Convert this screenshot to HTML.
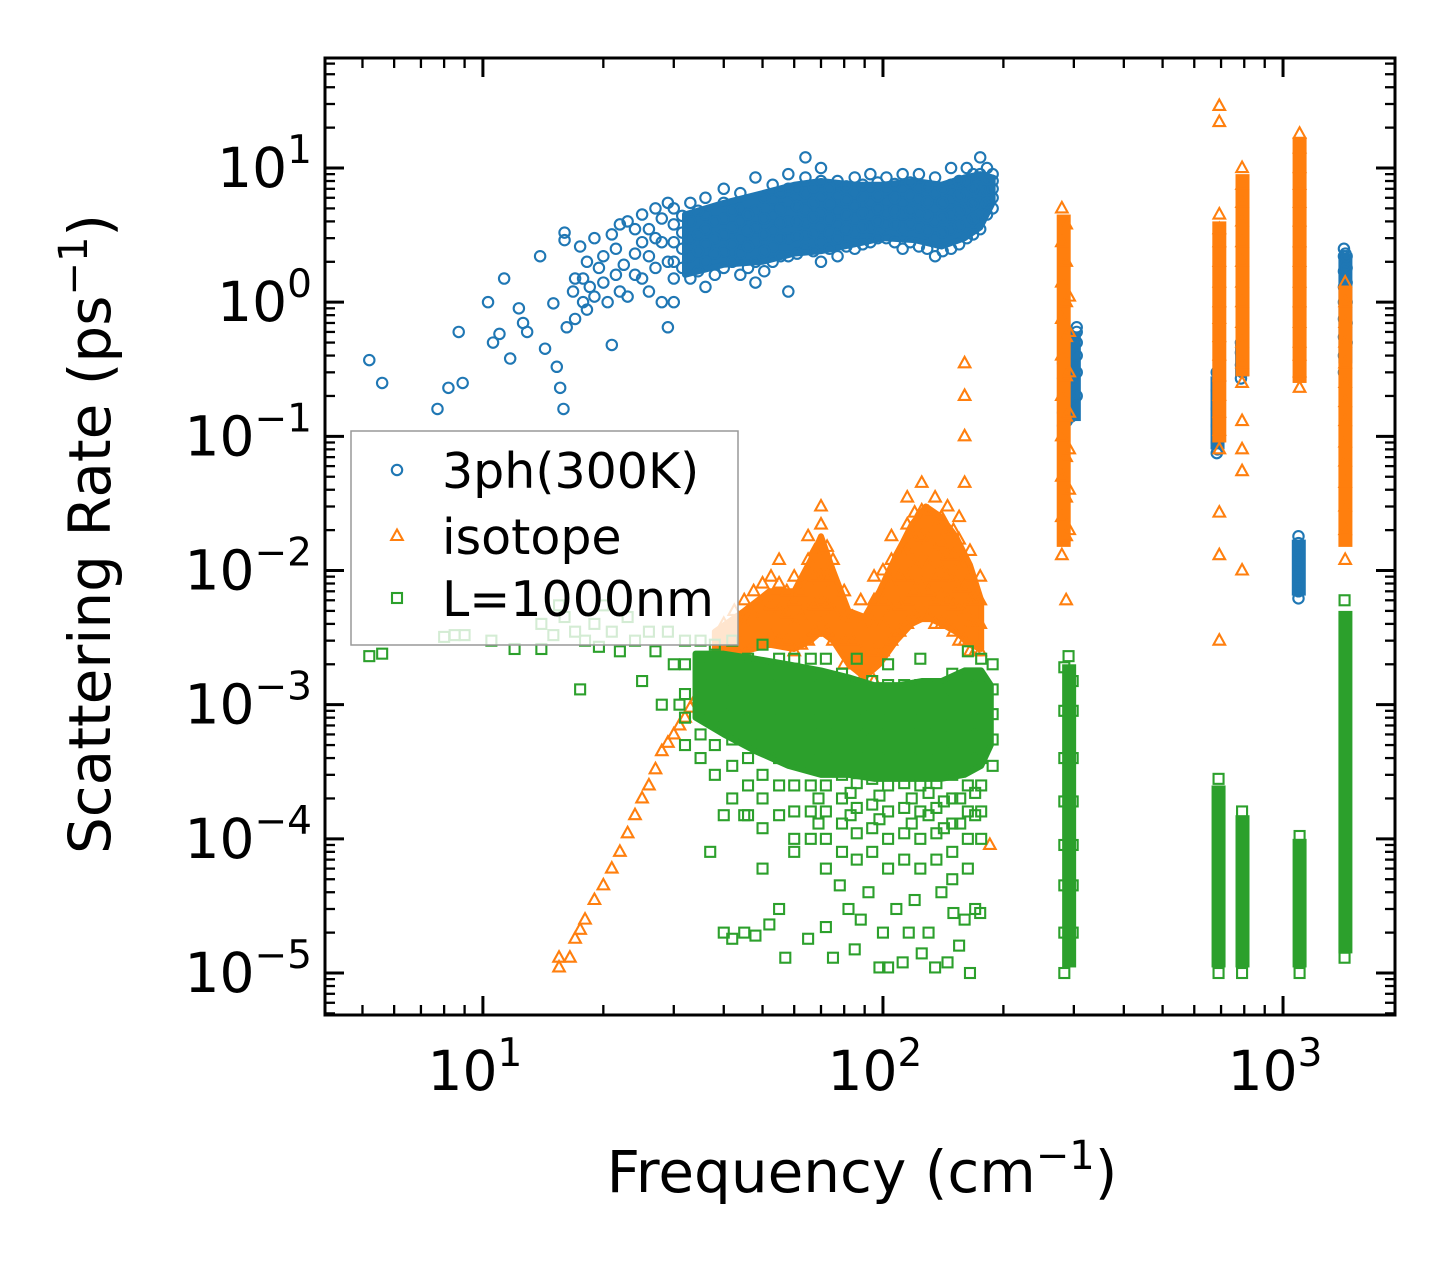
<!DOCTYPE html>
<html><head><meta charset="utf-8"><style>
body{margin:0;background:#fff;}
svg text{font-family:"DejaVu Sans","Liberation Sans",sans-serif;fill:#000;}
</style></head><body>
<svg id="chart" width="1455" height="1265" viewBox="0 0 1455 1265" xmlns="http://www.w3.org/2000/svg">
<rect width="1455" height="1265" fill="#fff"/>
<g id="marks"></g>
<g id="axes"></g>
<g id="legend"></g>
<text x="862" y="1192" font-size="58" text-anchor="middle">Frequency (cm<tspan font-size="40" dy="-23">−1</tspan><tspan dy="23">)</tspan></text>
<text transform="translate(110,534) rotate(-90)" font-size="58" text-anchor="middle">Scattering Rate (ps<tspan font-size="40" dy="-23">−1</tspan><tspan dy="23">)</tspan></text>
</svg>
<script>
// ---- dense-cloud envelopes: [frequency, low, high]
const blueBand = [[32,1.6,4.5],[40,1.9,5.5],[50,2,6.5],[60,2.3,7.5],[70,2.4,8],[85,2.7,7.5],[100,3,7.5],[120,2.9,8],[140,2.6,7.5],[160,3,8.5],[175,3.6,9],[188,5.5,8.5]];
const orangeBand = [[38,2e-3,3.5e-3],[45,2.5e-3,5e-3],[52,2.8e-3,7e-3],[60,2.6e-3,7e-3],[66,3e-3,1.2e-2],[70,3.5e-3,1.8e-2],[75,3e-3,1e-2],[82,2e-3,5e-3],[90,1.6e-3,4.5e-3],[98,2e-3,7e-3],[108,3e-3,1.3e-2],[118,4e-3,2.2e-2],[128,4.5e-3,3e-2],[140,4e-3,2.5e-2],[152,3.5e-3,1.8e-2],[165,2.8e-3,1.1e-2],[176,2.6e-3,6e-3]];
const greenBand = [[34,8e-4,2.4e-3],[40,6e-4,2.4e-3],[48,4.5e-4,2.2e-3],[58,3.5e-4,2e-3],[70,3e-4,1.8e-3],[82,3e-4,1.6e-3],[95,2.8e-4,1.4e-3],[110,2.8e-4,1.4e-3],[125,2.8e-4,1.5e-3],[140,2.8e-4,1.5e-3],[160,3e-4,1.8e-3],[176,3.5e-4,1.8e-3],[186,5e-4,1.4e-3]];
// ---- vertical mode stacks: [frequency, low, high]
const blueStacks = [[300,0.13,0.6],[686,0.08,0.28],[790,0.28,0.48],[1095,0.0065,0.017],[1432,0.35,2.3]];
const orangeStacks = [[283,0.015,4.5],[693,0.09,4],[792,0.28,9],[1100,0.25,17],[1432,0.015,1.3]];
const greenStacks = [[292,1.1e-5,2e-3],[690,1.1e-5,2.5e-4],[792,1.1e-5,1.5e-4],[1100,1.1e-5,1e-4],[1432,1.4e-5,5e-3]];
// ---- individual points: columns of [frequency, [rates...]]
const blueCols = [
[5.2,[0.37]],[5.6,[0.25]],[7.7,[0.16]],[8.2,[0.23]],[8.7,[0.6]],[8.9,[0.25]],[10.3,[1.0]],[10.6,[0.5]],[11,[0.58]],[11.3,[1.5]],[11.7,[0.38]],[12.3,[0.9]],[12.6,[0.7]],[12.9,[0.6]],[13.9,[2.2]],[14.3,[0.45]],[15,[0.98]],[15.3,[0.33]],[15.6,[0.23]],[15.9,[0.16]],[16,[3.3,2.9]],[16.2,[0.65]],[16.8,[1.2]],[17,[0.75,1.5]],[17.5,[2.6]],[17.8,[1.5,1.0]],[18.2,[0.88,2.0]],[18.5,[1.3]],[19,[3.0,1.1]],[19.5,[1.8]],[20,[2.2,1.4]],[20.5,[1.0]],[21,[0.48,3.2]],[21.5,[2.5,1.6]],[22,[1.2,3.8]],[22.5,[1.9]],[23,[4.0,1.1]],[24,[2.3,1.6,3.5]],[25,[1.5,2.8,4.5]],[26,[3.5,1.2,2.2]],[27,[5.0,1.8,3.0]],[28,[2.8,1.0,4.2]],[29,[0.65,2.0,5.5]],
[30,[1.0,1.5,2,2.8,3.8,5]],[33,[1.5,2.2,3,4,5.5]],[36,[1.3,2,2.7,3.5,4.5,6]],[40,[1.8,2.4,3.2,4.2,5.5,7]],[44,[1.6,2.3,3,4,5,6.5]],[48,[1.4,2,2.8,3.6,4.8,8.5]],[53,[2,2.6,3.4,4.4,5.8,7.5]],[58,[1.2,2.2,3,4,5.5,7,9]],[64,[2.5,3.2,4,5,6.5,8.5,12]],[70,[2,2.8,3.6,4.6,6,8,10]],[77,[2.2,3,3.8,4.8,6.2,8]],[85,[2.5,3.3,4.2,5.2,6.5,8.5]],[93,[2.8,3.6,4.5,5.5,7,9]],[102,[3,3.8,4.6,5.6,7,8.5]],[112,[2.5,3.5,4.5,5.5,7,9]],[123,[2.6,3.6,4.6,5.8,7.2,9]],[135,[2.2,3,4,5,6.5,8.5]],[148,[2.5,3.5,4.5,5.8,7.5,10]],[162,[3,4,5,6.5,8,10]],[175,[3.5,4.5,5.5,7,9,12]],[188,[5,6,7,8,9]],
[31.5,[1.8,2.5,3.3,4.4]],[34.5,[1.7,2.4,3.2,4.8]],[38,[1.6,2.3,3,4]],[42,[2,2.7,3.6,4.8]],[46,[1.8,2.6,3.4,4.5]],[50.5,[1.7,2.4,3.2,4.2,6]],[55.5,[2.2,3,3.9,5,6.6]],[61,[2.3,3.1,4,5.2,7]],[67,[2.4,3.3,4.3,5.5,7.2]],[73.5,[2.5,3.3,4.2,5.4,7]],[81,[2.6,3.5,4.5,5.8,7.3]],[89,[2.7,3.6,4.6,6,7.5]],[97,[3,4,5,6.2,7.8]],[107,[2.8,3.8,4.8,6,7.6]],[117,[2.8,3.8,4.8,6.2,7.8]],[129,[2.5,3.4,4.4,5.6,7.3]],[141,[2.4,3.3,4.3,5.5,7]],[155,[2.7,3.7,4.8,6.2,8]],[168,[3.2,4.2,5.4,7,9]],[182,[4.5,5.5,6.8,8.2,10]],
[282,[0.12,0.15,0.2,0.27,0.35]],[288,[0.13,0.17,0.23,0.3,0.4,0.5]],[295,[0.14,0.19,0.26,0.35,0.45,0.55]],[305,[0.2,0.3,0.4,0.5,0.6,0.65]],
[683,[0.075,0.09,0.12,0.16,0.22,0.3]],[686,[0.08,0.1,0.14,0.19,0.26]],
[785,[0.27,0.34,0.42,0.5]],[792,[0.3,0.38,0.46]],
[1093,[0.0062,0.007,0.008,0.009,0.01,0.011,0.012,0.013,0.014,0.016,0.018]],
[1420,[0.3,0.4,0.55,0.75,1,1.3,1.7,2.2,2.5]],[1432,[0.35,0.48,0.65,0.85,1.15,1.5,1.9,2.3]],[1442,[0.5,0.7,1,1.4,1.8,2.2]]
];
const orangeCols = [
[15.5,[1.1e-5,1.3e-5]],[16.5,[1.3e-5]],[17,[1.8e-5]],[17.5,[2.1e-5]],[18,[2.5e-5]],[19,[3.5e-5]],[20,[4.5e-5]],[21,[6e-5]],[22,[8e-5]],[23,[1.1e-4]],[24,[1.5e-4]],[25,[2e-4]],[26,[2.5e-4]],[27,[3.3e-4]],[28,[4.5e-4]],[29,[5.2e-4]],[30,[6e-4]],[31,[7e-4]],[32,[8e-4]],[33,[9.5e-4]],[34,[1.1e-3]],[35,[1.3e-3]],[36,[1.5e-3]],[37,[1.7e-3]],[38,[2e-3]],
[40,[2e-3,3e-3,4e-3]],[45,[2.5e-3,4e-3,6e-3]],[50,[3e-3,5e-3,8e-3]],[55,[3e-3,5e-3,8e-3,1.2e-2]],[60,[2.5e-3,4e-3,6e-3,9e-3]],[65,[3e-3,5e-3,8e-3,1.2e-2,1.8e-2]],[70,[4e-3,6e-3,9e-3,1.4e-2,2.2e-2,3e-2]],[75,[3e-3,5e-3,8e-3,1.2e-2]],[80,[2e-3,3e-3,4.5e-3,7e-3]],[88,[1.5e-3,2.5e-3,4e-3,6e-3]],[95,[1.5e-3,2.5e-3,4e-3,6e-3,9e-3]],[105,[3e-3,5e-3,8e-3,1.2e-2,1.8e-2]],[115,[4e-3,6e-3,9e-3,1.4e-2,2.2e-2,3.5e-2]],[125,[5e-3,8e-3,1.2e-2,1.8e-2,2.8e-2,4.5e-2]],[135,[4e-3,6e-3,9e-3,1.4e-2,2.2e-2,3.5e-2]],[145,[4e-3,6e-3,9e-3,1.3e-2,2e-2,3e-2]],[155,[3e-3,5e-3,7.5e-3,1.1e-2,1.7e-2,2.5e-2]],[165,[2.5e-3,4e-3,6e-3,9e-3,1.4e-2]],[175,[2.5e-3,4e-3,6e-3,9e-3]],
[42.5,[2.4e-3,3.5e-3,5e-3]],[47.5,[2.8e-3,4.5e-3,7e-3]],[52.5,[3.2e-3,5.5e-3,9e-3]],[57.5,[3e-3,4.8e-3,7e-3]],[62.5,[2.8e-3,4.5e-3,7e-3]],[67.5,[3.5e-3,5.5e-3,9e-3,1.4e-2]],[72.5,[3.5e-3,5.5e-3,9e-3,1.5e-2]],[84,[2e-3,3e-3,4.5e-3]],[100,[2.5e-3,4e-3,6e-3,1e-2]],[110,[3.5e-3,5.5e-3,9e-3,1.4e-2]],[120,[4.5e-3,7e-3,1.1e-2,1.7e-2,2.7e-2]],[130,[4.5e-3,7e-3,1.1e-2,1.7e-2,2.7e-2]],[140,[4e-3,6.5e-3,1e-2,1.6e-2,2.5e-2]],[150,[3.5e-3,5.5e-3,8.5e-3,1.3e-2,2e-2]],[160,[3e-3,5e-3,7.5e-3,1.1e-2,0.1,0.2,0.35,0.045]],[170,[2.5e-3,4e-3,6e-3]],[185,[9e-5]],
[280,[0.013,0.025,0.05,0.1,0.2,0.4,0.75,1.4,2.8,5]],[287,[0.006,0.018,0.035,0.07,0.14,0.28,0.55,1,2,3.8]],[292,[0.02,0.04,0.08,0.15,0.3,0.6,1.1]],
[693,[0.003,0.013,0.027,0.08,0.11,0.15,0.2,0.28,0.4,0.55,0.75,1,1.4,2,2.8,3.5,4.5,22,29]],
[790,[0.01,0.055,0.08,0.13,0.25,0.35,0.5,0.7,1,1.4,2,2.8,4,5.5,7.5,10]],
[1100,[0.23,0.3,0.4,0.5,0.7,1,1.4,2,2.8,4,5.5,7.5,10,14,18]],
[1430,[0.012,0.02,0.03,0.045,0.065,0.09,0.13,0.18,0.25,0.35,0.5,0.7,1,1.4]]
];
const greenCols = [
[5.2,[2.3e-3]],[5.6,[2.4e-3]],[8,[3.2e-3]],[8.5,[3.3e-3]],[9,[3.3e-3]],[10.5,[3e-3]],[12,[2.6e-3]],[14,[2.6e-3,4e-3]],[15,[3.3e-3]],[15.5,[5.5e-3]],[16,[4.5e-3]],[17,[3.5e-3]],[17.5,[1.3e-3]],[18,[3e-3]],[19,[4e-3]],[19.5,[2.7e-3]],[20,[5.5e-3]],[21,[3.5e-3]],[22,[2.5e-3]],[23,[4.5e-3]],[24,[3e-3]],[25,[1.5e-3]],[26,[3.5e-3]],[27,[2.5e-3]],[28,[1e-3]],[29,[3.5e-3]],[30,[2e-3]],[31,[1e-3]],
[32,[5e-4,8e-4,1.2e-3,2e-3,3e-3]],[35,[4e-4,6e-4,9e-4,1.4e-3,2.2e-3,3e-3]],[38,[3e-4,5e-4,8e-4,1.2e-3,1.8e-3,2.8e-3]],[42,[2e-4,3.5e-4,5.5e-4,8.5e-4,1.3e-3,2e-3,3e-3]],[46,[1.5e-4,2.5e-4,4e-4,6e-4,9e-4,1.4e-3,2.2e-3]],[50,[1.2e-4,2e-4,3e-4,5e-4,8e-4,1.2e-3,1.8e-3,2.8e-3]],[55,[1.5e-4,2.5e-4,4e-4,6e-4,9e-4,1.4e-3,2.2e-3]],[60,[1e-4,1.6e-4,2.5e-4,4e-4,6e-4,9e-4,1.4e-3,2.2e-3]],[66,[1e-4,1.6e-4,2.5e-4,4e-4,6e-4,9e-4,1.4e-3,2.2e-3]],[72,[6e-5,1e-4,1.6e-4,2.5e-4,4e-4,6e-4,9e-4,1.4e-3,2.2e-3]],[79,[8e-5,1.3e-4,2e-4,3e-4,4.5e-4,7e-4,1.1e-3,1.7e-3]],[86,[7e-5,1.1e-4,1.7e-4,2.6e-4,4e-4,6e-4,9e-4,1.4e-3,2.2e-3]],[94,[8e-5,1.2e-4,1.8e-4,2.8e-4,4.2e-4,6.5e-4,1e-3,1.5e-3]],[103,[6e-5,1e-4,1.6e-4,2.5e-4,4e-4,6e-4,9e-4,1.4e-3,2e-3]],[113,[7e-5,1.1e-4,1.7e-4,2.6e-4,4e-4,6e-4,9e-4,1.4e-3]],[124,[6e-5,1e-4,1.6e-4,2.5e-4,4e-4,6e-4,9e-4,1.4e-3,2.2e-3]],[136,[7e-5,1.1e-4,1.7e-4,2.6e-4,4e-4,6e-4,9e-4,1.4e-3]],[149,[5e-5,8e-5,1.3e-4,2e-4,3e-4,4.5e-4,7e-4,1.1e-3,1.7e-3]],[163,[6e-5,1e-4,1.6e-4,2.5e-4,4e-4,6e-4,9e-4,1.4e-3,2.5e-3]],[176,[1e-4,1.6e-4,2.5e-4,4e-4,6e-4,9e-4,1.4e-3,2.2e-3]],[188,[3.5e-4,5.5e-4,8.5e-4,1.3e-3,2e-3]],
[69,[1.3e-4,2e-4]],[83,[1.5e-4,2.2e-4]],[98,[1.4e-4,2.1e-4]],[118,[1.3e-4,2e-4]],[130,[1.5e-4,2.2e-4]],[142,[1.2e-4,1.9e-4]],[156,[1.3e-4,2e-4]],[170,[1.5e-4,2.2e-4]],
[40,[2e-5,1.5e-4]],[42,[1.8e-5]],[45,[2e-5,1.5e-4]],[48,[1.9e-5]],[52,[2.3e-5]],[50,[6e-5]],[55,[3e-5]],[57,[1.3e-5]],[60,[8e-5]],[65,[1.8e-5]],[72,[2.2e-5]],[75,[1.3e-5]],[78,[4.5e-5]],[82,[3e-5]],[85,[1.5e-5]],[88,[2.5e-5]],[92,[4e-5]],[98,[1.1e-5]],[100,[2e-5]],[103,[1.1e-5]],[108,[3e-5]],[112,[1.2e-5]],[116,[2e-5]],[120,[3.5e-5]],[125,[1.4e-5]],[130,[2e-5]],[135,[1.1e-5]],[140,[4e-5]],[145,[1.2e-5]],[150,[2.8e-5]],[155,[1.6e-5]],[160,[2.5e-5]],[165,[1e-5]],[170,[3e-5]],[175,[2.8e-5]],[37,[8e-5]],
[284,[1e-5,2e-5,4.5e-5,9e-5,1.9e-4,4e-4,9e-4,1.9e-3]],[291,[1.4e-5,3e-5,6.5e-5,1.3e-4,2.8e-4,6e-4,1.3e-3,2.3e-3]],[298,[2e-5,4.5e-5,9e-5,1.9e-4,4e-4,9e-4,1.5e-3]],
[690,[1e-5,1.4e-5,2e-5,3e-5,4.5e-5,6.5e-5,9e-5,1.3e-4,1.9e-4,2.8e-4]],
[790,[1e-5,1.4e-5,2e-5,3e-5,4.5e-5,6.5e-5,9e-5,1.2e-4,1.6e-4]],
[1100,[1e-5,1.4e-5,2e-5,3e-5,4.5e-5,6.5e-5,9e-5,1.05e-4]],
[1425,[1.3e-5,3e-5,6.5e-5,1.3e-4,2.8e-4,6e-4,1.3e-3,2.8e-3,6e-3]],[1435,[2e-5,4.5e-5,9e-5,1.9e-4,4e-4,9e-4,1.9e-3,4e-3]]
];
const xTickLabels = ["1","2","3"];
const yTickLabels = ["−5","−4","−3","−2","−1","0","1"];
const legendLabels = ["3ph(300K)","isotope","L=1000nm"];

const NS="http://www.w3.org/2000/svg";
const L=325,R=1395,T=58,B=1015;
const xmin=Math.log10(4.03),xmax=Math.log10(1905),ymin=-5.313,ymax=1.82;
function sx(v){return L+(Math.log10(v)-xmin)/(xmax-xmin)*(R-L);}
function sy(v){return B-(Math.log10(v)-ymin)/(ymax-ymin)*(B-T);}
function mk(tag,attrs,parent){const e=document.createElementNS(NS,tag);for(const k in attrs)e.setAttribute(k,attrs[k]);parent.appendChild(e);return e;}
const marks=document.getElementById('marks');
const colors={blue:'#1f77b4',orange:'#ff7f0e',green:'#2ca02c'};
function marker(type,x,y,parent){
  let e;
  if(type==='blue'){e=mk('circle',{cx:x,cy:y,r:5.2,fill:'none',stroke:colors.blue,'stroke-width':2.1},parent);}
  else if(type==='orange'){e=mk('path',{d:`M${x},${y-6.5}L${x+5.8},${y+4}L${x-5.8},${y+4}Z`,fill:'none',stroke:colors.orange,'stroke-width':2.1},parent);}
  else {e=mk('rect',{x:x-5,y:y-5,width:10,height:10,fill:'none',stroke:colors.green,'stroke-width':2.1},parent);}
  return e;
}
const seriesDefs=[['blue',blueBand,blueStacks,blueCols,'series-3ph'],['orange',orangeBand,orangeStacks,orangeCols,'series-isotope'],['green',greenBand,greenStacks,greenCols,'series-boundary']];
seriesDefs.forEach(([t,band,stacks,cols,name])=>{
  const g=mk('g',{},marks);
  
  
  const top=band.map(b=>`${sx(b[0])},${sy(b[2])}`);
  const bot=band.slice().reverse().map(b=>`${sx(b[0])},${sy(b[1])}`);
  const poly=mk('polygon',{points:top.concat(bot).join(' '),fill:colors[t],stroke:colors[t],'stroke-width':6,'stroke-linejoin':'round'},g);
  
  
  stacks.forEach(s=>{
    const r=mk('rect',{x:sx(s[0])-7,y:sy(s[2]),width:14,height:sy(s[1])-sy(s[2]),fill:colors[t]},g);
    
    
  });
  cols.forEach(c=>c[1].forEach(v=>{
    const e=marker(t,sx(c[0]),sy(v),g);
    
    
  }));
});
// axes
const ax=document.getElementById('axes');
const frame=mk('rect',{x:L,y:T,width:R-L,height:B-T,fill:'none',stroke:'#000','stroke-width':3},ax);


function tick(x1,y1,x2,y2,w){mk('line',{x1,y1,x2,y2,stroke:'#000','stroke-width':w},ax);}
for(let d=0;d<=3;d++)for(let m=1;m<10;m++){
  const v=m*Math.pow(10,d);if(v<4.03||v>1905)continue;const x=sx(v);const len=m===1?19:10;const w=m===1?3:2.3;
  tick(x,B,x,B-len,w);tick(x,T,x,T+len,w);
}
for(let d=-6;d<=1;d++)for(let m=1;m<10;m++){
  const v=m*Math.pow(10,d);const lv=Math.log10(v);if(lv<ymin||lv>ymax)continue;const y=sy(v);const len=m===1?19:10;const w=m===1?3:2.3;
  tick(L,y,L+len,y,w);tick(R,y,R-len,y,w);
}
xTickLabels.forEach((s,i)=>{
  const x=sx(Math.pow(10,i+1));
  const t=mk('text',{x:x-8,y:1090,'font-size':55,'text-anchor':'middle'},ax);
  
  
  t.innerHTML=`10<tspan font-size="39" dy="-24">${s}</tspan>`;
});
yTickLabels.forEach((s,i)=>{
  const y=sy(Math.pow(10,i-5));
  const t=mk('text',{x:312,y:y+19,'font-size':55,'text-anchor':'end'},ax);
  
  
  t.innerHTML=`10<tspan font-size="39" dy="-24">${s}</tspan>`;
});
// legend
const lg=document.getElementById('legend');
const box=mk('rect',{x:351,y:431,width:387,height:214,fill:'#fff','fill-opacity':0.8,stroke:'#999','stroke-width':1.5},lg);


['blue','orange','green'].forEach((t,i)=>{
  const y=[470,536,598][i];
  const m=marker(t,397,y,lg);
  
  
  const tx=mk('text',{x:442,y:y+18,'font-size':49},lg);
  
  
  tx.textContent=legendLabels[i];
});
</script>
</body></html>
